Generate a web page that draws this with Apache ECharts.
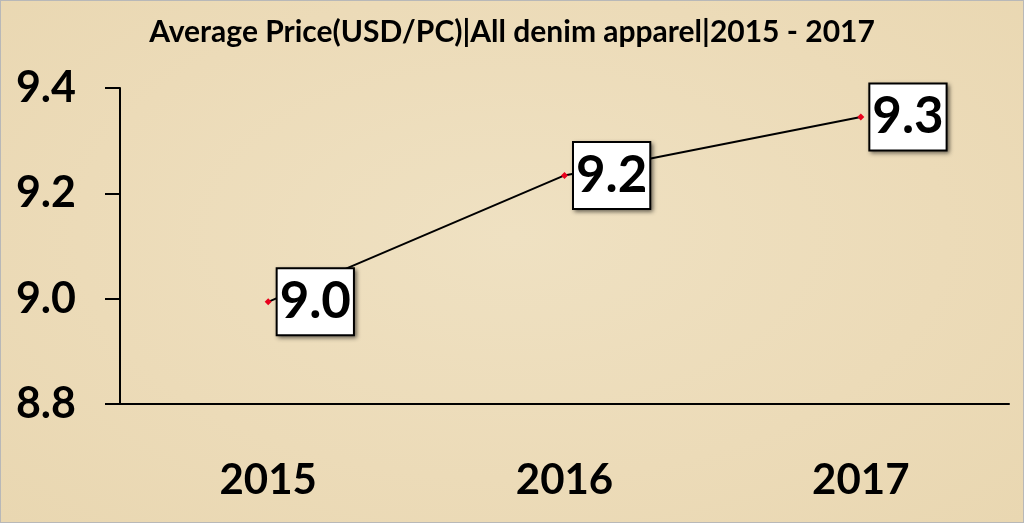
<!DOCTYPE html>
<html>
<head>
<meta charset="utf-8">
<script src="https://cdn.jsdelivr.net/npm/echarts@6/dist/echarts.min.js"></script>
<style>
html,body{margin:0;padding:0;}
#chart{width:1024px;height:523px;box-sizing:border-box;border:1px solid #b8b8b8;
background:radial-gradient(ellipse at 50% 45%, #efe1c2 0%, #ecdbb8 60%, #e9d7b1 100%);}
</style>
</head>
<body>
<div id="chart"></div>
<script>
const titleText = 'Average Price(USD/PC)|All denim apparel|2015 - 2017';
const categories = ['2015', '2016', '2017'];
const prices = [8.994, 9.234, 9.345];
const labelTexts = ['9.0', '9.2', '9.3'];
const yMin = 8.8, yMax = 9.4, yStep = 0.2;

const chart = echarts.init(document.getElementById('chart'), null, {renderer: 'canvas'});
const font = 'Lato, "Open Sans", sans-serif';
chart.setOption({
  animation: false,
  title: {
    text: titleText, left: 'center', top: 11,
    textStyle: {fontFamily: font, fontWeight: 'bold', fontSize: 30, color: '#000'}
  },
  grid: {left: 119, right: 14, top: 87, bottom: 118},
  xAxis: {
    type: 'category', data: categories, boundaryGap: true,
    axisLine: {lineStyle: {color: '#000', width: 2}},
    axisTick: {show: false},
    axisLabel: {fontFamily: font, fontWeight: 'bold', fontSize: 42, color: '#000', margin: 55}
  },
  yAxis: {
    type: 'value', min: yMin, max: yMax, interval: yStep,
    splitLine: {show: false},
    axisLine: {show: true, lineStyle: {color: '#000', width: 2}},
    axisTick: {show: true, length: 15, lineStyle: {color: '#000', width: 2}},
    axisLabel: {fontFamily: font, fontWeight: 'bold', fontSize: 43, color: '#000', margin: 44,
      formatter: v => v.toFixed(1)}
  },
  series: [{
    type: 'line', data: prices,
    lineStyle: {color: '#000', width: 2},
    symbol: 'diamond', symbolSize: 7,
    itemStyle: {color: '#e8001c'},
    label: {
      show: true, position: 'right', distance: 6,
      formatter: p => labelTexts[p.dataIndex],
      fontFamily: font, fontWeight: 'bold', fontSize: 51, color: '#000',
      backgroundColor: '#fff', borderColor: '#000', borderWidth: 2,
      padding: [8, 2, 6, 2],
      shadowColor: 'rgba(0,0,0,0.45)', shadowBlur: 4, shadowOffsetX: 2, shadowOffsetY: 2
    }
  }]
});
</script>
</body>
</html>
